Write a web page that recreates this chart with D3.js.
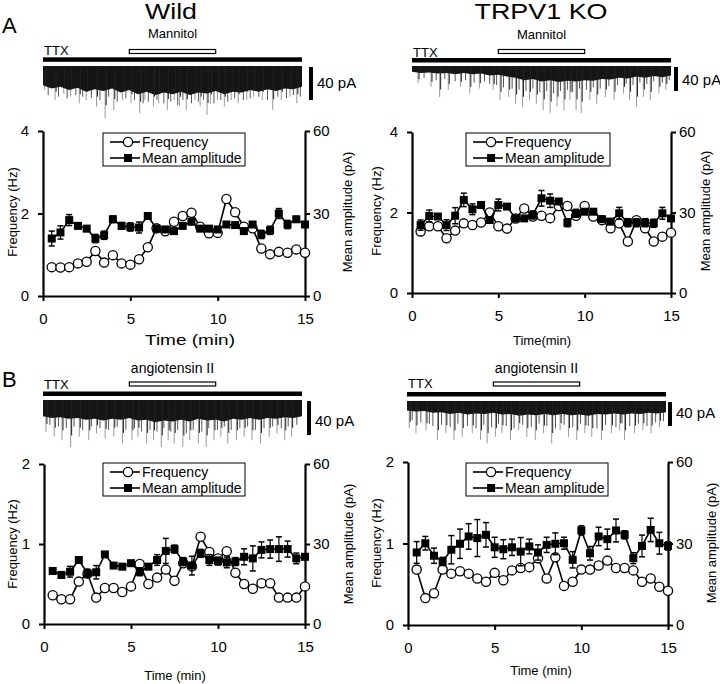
<!DOCTYPE html>
<html>
<head>
<meta charset="utf-8">
<script src="https://cdn.jsdelivr.net/npm/d3@7"></script>
<style>
body { margin: 0; background: #fff; }
svg { font-family: "Liberation Sans", Arial, sans-serif; }
</style>
</head>
<body>
<script>
// time points (min)
var times = [0.5, 1, 1.5, 2, 2.5, 3, 3.5, 4, 4.5, 5, 5.5, 6, 6.5, 7, 7.5, 8, 8.5, 9, 9.5, 10, 10.5, 11, 11.5, 12, 12.5, 13, 13.5, 14, 14.5, 15];
var xTicks = [0, 5, 10, 15];
var ampTicks = [0, 30, 60];
var drugOn = [5, 10];

// A - Wild (mannitol)
var aWildFreq = [0.70, 0.69, 0.70, 0.79, 0.83, 1.09, 0.81, 0.99, 0.79, 0.76, 0.89, 1.18, 1.64, 1.57, 1.80, 1.94, 2.02, 1.68, 1.52, 1.53, 2.35, 2.03, 1.68, 1.64, 1.15, 1.01, 1.07, 1.05, 1.13, 1.05];
var aWildAmp = [20.9, 23.1, 27.6, 25.5, 24.5, 20.9, 22.1, 27.9, 25.5, 25.1, 24.9, 29.1, 24.5, 24.2, 23.6, 25.5, 27.0, 24.5, 24.5, 24.2, 26.0, 25.8, 23.6, 26.0, 22.4, 23.9, 30.0, 26.0, 27.9, 26.0];
var aWildErr = [2.7, 2.4, 2.0, 1.0, 1.0, 1.5, 1.5, 1.2, 1.2, 1.5, 2.0, 1.0, 1.0, 1.0, 1.0, 1.0, 1.0, 1.0, 1.0, 1.0, 1.0, 1.0, 1.0, 1.0, 1.5, 1.5, 1.8, 1.5, 1.0, 1.0];

// A - TRPV1 KO (mannitol)
var aKoFreq = [1.53, 1.66, 1.66, 1.36, 1.55, 1.73, 1.69, 1.75, 2.00, 1.66, 1.60, 1.85, 2.10, 1.90, 1.92, 1.86, 2.16, 2.16, 1.92, 2.16, 1.90, 1.81, 1.61, 1.73, 1.28, 1.81, 1.61, 1.28, 1.40, 1.50];
var aKoAmp = [25.3, 28.7, 28.5, 25.3, 28.8, 34.7, 31.2, 32.8, 27.2, 32.8, 32.2, 27.8, 27.8, 29.1, 35.3, 34.4, 34.1, 26.2, 29.7, 30.3, 30.3, 27.5, 26.6, 29.7, 26.2, 26.2, 26.2, 26.0, 29.7, 27.8];
var aKoErr = [1.9, 2.2, 1.0, 2.0, 3.0, 2.5, 2.0, 1.0, 1.0, 2.2, 1.0, 1.0, 1.0, 1.5, 2.9, 2.5, 1.0, 1.5, 1.5, 1.0, 1.0, 1.0, 1.0, 2.2, 1.5, 1.5, 1.5, 1.5, 2.2, 1.0];

// B - Wild (angiotensin II)
var bWildFreq = [0.36, 0.31, 0.31, 0.53, 0.63, 0.33, 0.45, 0.45, 0.40, 0.47, 0.75, 0.50, 0.58, 0.68, 0.54, 0.76, 0.72, 1.09, 0.90, 0.82, 0.91, 0.64, 0.50, 0.44, 0.51, 0.51, 0.33, 0.33, 0.33, 0.47];
var bWildAmp = [19.9, 18.4, 19.6, 24.0, 19.0, 19.4, 26.1, 21.9, 21.5, 22.8, 19.6, 21.5, 24.0, 27.4, 28.1, 23.4, 21.9, 26.5, 24.0, 23.6, 23.1, 23.4, 25.2, 24.6, 27.8, 28.1, 28.1, 28.1, 24.6, 25.2];
var bWildErr = [1.0, 1.0, 2.0, 1.0, 1.5, 2.5, 1.0, 1.0, 1.0, 1.0, 1.5, 1.0, 2.0, 4.7, 1.5, 1.5, 3.5, 1.5, 2.0, 1.5, 2.0, 1.5, 3.0, 4.7, 3.0, 3.4, 4.6, 3.0, 2.0, 1.0];

// B - TRPV1 KO (angiotensin II)
var bKoFreq = [0.68, 0.33, 0.39, 0.68, 0.63, 0.66, 0.63, 0.57, 0.53, 0.64, 0.55, 0.67, 0.70, 0.71, 0.82, 0.57, 0.83, 0.48, 0.53, 0.68, 0.68, 0.73, 0.79, 0.70, 0.70, 0.67, 0.53, 0.57, 0.47, 0.42];
var bKoAmp = [26.7, 30.1, 25.5, 23.4, 27.7, 29.9, 32.6, 32.0, 33.2, 28.6, 27.9, 28.6, 27.0, 28.9, 26.7, 29.5, 29.9, 30.1, 24.0, 34.8, 26.4, 32.6, 31.6, 34.8, 33.2, 24.6, 29.1, 35.0, 30.1, 29.1];
var bKoErr = [4.0, 2.5, 2.8, 1.5, 5.2, 5.4, 4.7, 6.8, 4.5, 3.7, 3.5, 3.0, 5.2, 2.7, 2.8, 2.8, 4.0, 2.2, 3.0, 1.7, 2.5, 3.4, 3.7, 4.2, 1.5, 2.0, 4.0, 4.3, 4.0, 1.5];

// current traces: noise band depth (pA) every half minute, big events and small events [min, pA]
var bandMinutes = [0, 0.5, 1, 1.5, 2, 2.5, 3, 3.5, 4, 4.5, 5, 5.5, 6, 6.5, 7, 7.5, 8, 8.5, 9, 9.5, 10, 10.5, 11, 11.5, 12, 12.5, 13, 13.5, 14, 14.5, 15];
var aWildBand = [22, 26, 24, 28, 25, 30, 27, 29, 26, 31, 28, 33, 30, 34, 31, 33, 30, 34, 31, 32, 29, 33, 30, 31, 28, 30, 27, 29, 26, 27, 24];
var aWildSpikes = [[0.1, 28], [0.7, 40], [1.2, 32], [1.6, 36], [2.1, 44], [2.5, 40], [3.1, 48], [3.6, 62], [4.1, 52], [4.6, 40], [5.1, 44], [5.6, 56], [5.9, 40], [6.4, 48], [6.7, 44], [7.2, 52], [7.6, 40], [7.9, 48], [8.3, 52], [8.8, 40], [9.1, 48], [9.5, 58], [9.7, 44], [10.1, 40], [10.5, 48], [10.9, 40], [11.3, 44], [11.8, 40], [12.2, 36], [12.7, 40], [13.3, 52], [13.8, 40], [14.3, 36], [14.7, 44]];
var aWildSmall = [[0.3, 34], [0.9, 36], [1.4, 38], [1.9, 34], [2.3, 36], [2.8, 38], [3.3, 40], [3.8, 36], [4.3, 42], [4.8, 38], [5.3, 40], [5.8, 44], [6.1, 42], [6.6, 40], [7.0, 44], [7.4, 42], [7.8, 46], [8.1, 40], [8.6, 44], [9.0, 42], [9.3, 40], [9.9, 44], [10.3, 40], [10.7, 42], [11.1, 38], [11.6, 40], [12.0, 38], [12.5, 36], [13.0, 40], [13.6, 36], [14.1, 38], [14.5, 34], [14.9, 36]];
var aKoBand = [8, 10, 9, 11, 10, 12, 10, 12, 11, 14, 13, 16, 18, 22, 20, 24, 22, 25, 23, 24, 22, 23, 20, 21, 18, 19, 16, 18, 15, 17, 14];
var aKoSpikes = [[0.35, 27], [1.1, 33], [1.6, 50], [2.1, 38], [2.8, 33], [3.35, 44], [3.9, 36], [4.7, 38], [5.1, 55], [5.6, 50], [6.0, 61], [6.4, 66], [6.8, 55], [7.2, 61], [7.6, 72], [8.0, 77], [8.4, 66], [8.8, 72], [9.15, 55], [9.5, 72], [9.8, 77], [10.3, 55], [10.7, 61], [11.2, 50], [11.7, 55], [12.25, 44], [12.6, 55], [13.0, 66], [13.4, 50], [13.8, 55], [14.3, 44], [14.7, 38]];
var aKoSmall = [[0.7, 18], [1.4, 22], [1.9, 20], [2.5, 24], [3.1, 22], [3.6, 26], [4.2, 24], [4.5, 28], [4.9, 30], [5.3, 34], [5.8, 36], [6.2, 38], [6.6, 40], [7.0, 36], [7.4, 42], [7.8, 40], [8.2, 44], [8.6, 40], [9.0, 38], [9.3, 42], [9.7, 36], [10.1, 38], [10.5, 34], [10.9, 36], [11.4, 32], [11.9, 30], [12.4, 28], [12.8, 30], [13.2, 26], [13.6, 28], [14.0, 24], [14.5, 26], [14.9, 22]];
var bWildBand = [18, 20, 19, 21, 20, 22, 21, 23, 21, 22, 20, 23, 22, 25, 23, 24, 22, 24, 21, 23, 22, 24, 21, 22, 20, 22, 20, 21, 19, 20, 18];
var bWildSpikes = [[0.17, 36], [0.65, 42], [1.1, 46], [1.6, 54], [2.1, 42], [2.65, 46], [3.1, 38], [3.6, 44], [4.1, 42], [4.6, 50], [5.15, 46], [5.5, 42], [6.0, 50], [6.4, 46], [6.85, 54], [7.25, 46], [7.6, 50], [8.1, 54], [8.5, 46], [9.0, 50], [9.45, 54], [9.9, 46], [10.3, 42], [10.7, 50], [11.2, 46], [11.65, 42], [12.1, 46], [12.6, 50], [13.1, 42], [13.55, 38], [14.0, 46], [14.4, 42]];
var bWildSmall = [[0.4, 28], [0.9, 30], [1.35, 32], [1.8, 30], [2.3, 34], [2.8, 30], [3.3, 32], [3.8, 34], [4.3, 30], [4.8, 34], [5.3, 32], [5.7, 36], [6.2, 34], [6.6, 36], [7.0, 32], [7.4, 36], [7.8, 34], [8.3, 38], [8.7, 34], [9.2, 36], [9.6, 32], [10.1, 34], [10.5, 30], [10.9, 34], [11.4, 32], [11.85, 30], [12.3, 34], [12.8, 32], [13.3, 30], [13.8, 32], [14.2, 30], [14.7, 28]];
var bKoBand = [14, 16, 15, 18, 17, 20, 18, 21, 19, 20, 18, 21, 20, 23, 21, 22, 20, 22, 20, 22, 21, 23, 20, 21, 19, 21, 19, 20, 18, 19, 17];
var bKoSpikes = [[0.13, 44], [0.52, 52], [1.1, 47], [1.76, 63], [2.25, 52], [2.72, 63], [3.2, 58], [3.78, 52], [4.26, 63], [4.64, 69], [5.12, 58], [5.5, 52], [5.99, 63], [6.47, 47], [6.94, 58], [7.43, 63], [7.9, 52], [8.38, 69], [8.87, 47], [9.35, 58], [9.83, 63], [10.3, 52], [10.7, 58], [11.26, 63], [11.84, 52], [12.32, 47], [12.6, 63], [13.18, 52], [13.66, 47], [14.14, 52], [14.62, 42]];
var bKoSmall = [[0.3, 30], [0.8, 34], [1.3, 36], [1.5, 40], [2.0, 38], [2.5, 42], [2.95, 36], [3.5, 40], [4.0, 44], [4.45, 38], [4.9, 42], [5.3, 36], [5.75, 40], [6.2, 44], [6.7, 38], [7.2, 42], [7.65, 36], [8.1, 40], [8.6, 44], [9.1, 38], [9.6, 42], [10.05, 36], [10.5, 40], [11.0, 44], [11.5, 38], [12.1, 42], [12.45, 36], [12.9, 40], [13.4, 36], [13.9, 40], [14.4, 34], [14.85, 32]];

var W = 720, H = 684;
var svg = d3.select("body").append("svg").attr("width", W).attr("height", H);

function drawTrace(t) {
    var tx = d3.scaleLinear().domain([0, 15]).range([t.x0, t.x1]);
    var ty = d3.scaleLinear().domain([0, 40]).range([t.top, t.top + t.h40]);
    var g = svg.append("g");
    g.append("text").attr("x", (tx(drugOn[0]) + tx(drugOn[1])) / 2).attr("y", t.drugY)
        .attr("text-anchor", "middle").attr("font-size", t.drugSize).text(t.drug);
    g.append("rect").attr("x", tx(drugOn[0])).attr("y", t.boxY)
        .attr("width", tx(drugOn[1]) - tx(drugOn[0])).attr("height", 4)
        .attr("fill", "#fff").attr("stroke", "#000").attr("stroke-width", 1.2);
    g.append("text").attr("x", tx(0) + 1).attr("y", t.ttxY).attr("font-size", 13).text("TTX");
    g.append("rect").attr("x", tx(0)).attr("y", t.barY)
        .attr("width", tx(15) - tx(0)).attr("height", 4.5).attr("fill", "#000");
    // big events (gray)
    g.selectAll(".sp").data(t.spikes).enter().append("line")
        .attr("x1", d => tx(d[0])).attr("x2", d => tx(d[0]))
        .attr("y1", ty(0)).attr("y2", d => ty(d[1]))
        .attr("stroke", "#999").attr("stroke-width", 1);
    // small events (dark)
    g.selectAll(".sm").data(t.small).enter().append("line")
        .attr("x1", d => tx(d[0])).attr("x2", d => tx(d[0]))
        .attr("y1", ty(0)).attr("y2", d => ty(d[1]))
        .attr("stroke", "#555").attr("stroke-width", 1);
    // dense noise band
    var area = d3.area()
        .x((d, i) => tx(bandMinutes[i]))
        .y0(ty(0) - 1)
        .y1(d => ty(d));
    g.append("path").datum(t.band).attr("d", area).attr("fill", "#151515");
    g.selectAll(".spb").data(t.spikes).enter().append("line")
        .attr("x1", d => tx(d[0]) + 1).attr("x2", d => tx(d[0]) + 1)
        .attr("y1", ty(0)).attr("y2", d => ty(d[1] * 0.75))
        .attr("stroke", "#222").attr("stroke-width", 1);
    // scale bar
    g.append("rect").attr("x", t.sbX).attr("y", ty(0))
        .attr("width", 4).attr("height", ty(40) - ty(0)).attr("fill", "#000");
    g.append("text").attr("x", t.sbX + 8).attr("y", t.sbLabelY)
        .attr("font-size", 15).text("40 pA");
}

function drawPanel(p) {
    var x = d3.scaleLinear().domain([0, 15]).range([p.x0, p.x1]);
    var yF = d3.scaleLinear().domain([0, p.fMax]).range([p.yb, p.yt]);
    var yA = d3.scaleLinear().domain([0, 60]).range([p.yb, p.yt]);
    var g = svg.append("g");

    var axL = g.append("g").attr("transform", "translate(" + p.x0 + ",0)")
        .call(d3.axisLeft(yF).tickValues(p.fTicks).tickSize(5).tickSizeOuter(0).tickPadding(9).tickFormat(d3.format("d")));
    var axR = g.append("g").attr("transform", "translate(" + p.x1 + ",0)")
        .call(d3.axisRight(yA).tickValues(ampTicks).tickSize(5).tickSizeOuter(0).tickPadding(3));
    var axB = g.append("g").attr("transform", "translate(0," + p.yb + ")")
        .call(d3.axisBottom(x).tickValues(xTicks).tickSize(5).tickSizeOuter(0).tickPadding(12));
    [axL, axR, axB].forEach(function (a) {
        a.select(".domain").attr("stroke-width", 2.2);
        a.selectAll(".tick line").attr("stroke-width", 2);
        a.selectAll("text").attr("font-size", 15).attr("font-family", "Liberation Sans, Arial, sans-serif").attr("fill", "#000");
    });

    g.append("text").attr("transform", "translate(" + p.lLabX + "," + p.labMidY + ") rotate(-90)")
        .attr("text-anchor", "middle").attr("dy", "0.35em").attr("font-size", 13).text("Frequency (Hz)");
    g.append("text").attr("transform", "translate(" + p.rLabX + "," + p.labMidY + ") rotate(-90)")
        .attr("text-anchor", "middle").attr("dy", "0.35em").attr("font-size", 13).text("Mean amplitude (pA)");
    var tl = g.append("text").attr("x", p.tLabX).attr("y", p.tLabY)
        .attr("text-anchor", "middle").attr("font-size", p.tLabSize || 13).text(p.tLab);
    if (p.tLabW) tl.attr("textLength", p.tLabW).attr("lengthAdjust", "spacingAndGlyphs");

    var freq = times.map((t, i) => ({ t: t, v: p.freq[i] }));
    var amp = times.map((t, i) => ({ t: t, v: p.amp[i], e: p.err[i] }));

    g.append("path").datum(freq)
        .attr("d", d3.line().x(d => x(d.t)).y(d => yF(d.v)))
        .attr("fill", "none").attr("stroke", "#000").attr("stroke-width", 1.6);
    g.selectAll(".c").data(freq).enter().append("circle")
        .attr("cx", d => x(d.t)).attr("cy", d => yF(d.v)).attr("r", 4.6)
        .attr("fill", "#fff").attr("stroke", "#000").attr("stroke-width", 1.3);

    // error bars
    var eb = g.selectAll(".eb").data(amp).enter().append("g");
    eb.append("line").attr("x1", d => x(d.t)).attr("x2", d => x(d.t))
        .attr("y1", d => yA(d.v - d.e)).attr("y2", d => yA(d.v + d.e))
        .attr("stroke", "#000").attr("stroke-width", 1.2);
    eb.append("line").attr("x1", d => x(d.t) - 3).attr("x2", d => x(d.t) + 3)
        .attr("y1", d => yA(d.v + d.e)).attr("y2", d => yA(d.v + d.e))
        .attr("stroke", "#000").attr("stroke-width", 1.5);
    eb.append("line").attr("x1", d => x(d.t) - 3).attr("x2", d => x(d.t) + 3)
        .attr("y1", d => yA(d.v - d.e)).attr("y2", d => yA(d.v - d.e))
        .attr("stroke", "#000").attr("stroke-width", 1.5);

    g.append("path").datum(amp)
        .attr("d", d3.line().x(d => x(d.t)).y(d => yA(d.v)))
        .attr("fill", "none").attr("stroke", "#000").attr("stroke-width", 1.6);
    g.selectAll(".s").data(amp).enter().append("rect")
        .attr("x", d => x(d.t) - 4).attr("y", d => yA(d.v) - 4)
        .attr("width", 8).attr("height", 8).attr("fill", "#000");

    // legend
    var lg = g.append("g").attr("transform", "translate(" + p.legX + "," + p.legY + ")");
    lg.append("rect").attr("x", 0).attr("y", 0).attr("width", p.legW).attr("height", 33)
        .attr("fill", "#fff").attr("stroke", "#000").attr("stroke-width", 1);
    lg.append("line").attr("x1", 7).attr("x2", 37).attr("y1", 9).attr("y2", 9)
        .attr("stroke", "#000").attr("stroke-width", 1.6);
    lg.append("circle").attr("cx", 25).attr("cy", 9).attr("r", 4.6)
        .attr("fill", "#fff").attr("stroke", "#000").attr("stroke-width", 1.3);
    lg.append("text").attr("x", 39).attr("y", 14).attr("font-size", 14).text("Frequency");
    lg.append("line").attr("x1", 7).attr("x2", 37).attr("y1", 25).attr("y2", 25)
        .attr("stroke", "#000").attr("stroke-width", 1.6);
    lg.append("rect").attr("x", 21).attr("y", 21).attr("width", 8).attr("height", 8).attr("fill", "#000");
    lg.append("text").attr("x", 39).attr("y", 30).attr("font-size", 14).text("Mean amplitude");
}

// panel letters and titles
svg.append("text").attr("x", 2).attr("y", 33).attr("font-size", 22).text("A");
svg.append("text").attr("x", 2).attr("y", 387).attr("font-size", 22).text("B");
svg.append("text").attr("x", 171).attr("y", 19).attr("text-anchor", "middle").attr("font-size", 22)
    .attr("textLength", 52).attr("lengthAdjust", "spacingAndGlyphs").text("Wild");
svg.append("text").attr("x", 541).attr("y", 19).attr("text-anchor", "middle").attr("font-size", 22)
    .attr("textLength", 133).attr("lengthAdjust", "spacingAndGlyphs").text("TRPV1 KO");

drawTrace({ x0: 43, x1: 302, top: 67, h40: 33, drug: "Mannitol", drugSize: 13, drugY: 38, boxY: 49.5, ttxY: 55, barY: 57.3, sbX: 309, sbLabelY: 88, band: aWildBand, spikes: aWildSpikes, small: aWildSmall });
drawTrace({ x0: 412, x1: 671, top: 67, h40: 24, drug: "Mannitol", drugSize: 13, drugY: 39, boxY: 49.5, ttxY: 57, barY: 58, sbX: 674, sbLabelY: 85, band: aKoBand, spikes: aKoSpikes, small: aKoSmall });
drawTrace({ x0: 43, x1: 302, top: 401, h40: 34, drug: "angiotensin II", drugSize: 14, drugY: 373, boxY: 382, ttxY: 389, barY: 391.5, sbX: 307, sbLabelY: 426, band: bWildBand, spikes: bWildSpikes, small: bWildSmall });
drawTrace({ x0: 407, x1: 666, top: 402, h40: 24, drug: "angiotensin II", drugSize: 14, drugY: 373, boxY: 382, ttxY: 388, barY: 392, sbX: 668, sbLabelY: 418, band: bKoBand, spikes: bKoSpikes, small: bKoSmall });

drawPanel({ x0: 43, x1: 305, yt: 131, yb: 296, fMax: 4, fTicks: [0, 2, 4], freq: aWildFreq, amp: aWildAmp, err: aWildErr,
    lLabX: 12, rLabX: 347, labMidY: 212, tLab: "Time (min)", tLabX: 190, tLabY: 345, tLabW: 90, tLabSize: 14,
    legX: 103, legY: 133, legW: 142 });
drawPanel({ x0: 412, x1: 671, yt: 132, yb: 293, fMax: 4, fTicks: [0, 2, 4], freq: aKoFreq, amp: aKoAmp, err: aKoErr,
    lLabX: 376, rLabX: 705, labMidY: 211, tLab: "Time(min)", tLabX: 542, tLabY: 345,
    legX: 466, legY: 133, legW: 144 });
drawPanel({ x0: 44, x1: 305, yt: 464, yb: 624, fMax: 2, fTicks: [0, 1, 2], freq: bWildFreq, amp: bWildAmp, err: bWildErr,
    lLabX: 12, rLabX: 348, labMidY: 544, tLab: "Time (min)", tLabX: 175, tLabY: 680,
    legX: 103, legY: 463, legW: 142 });
drawPanel({ x0: 408, x1: 668, yt: 462, yb: 625, fMax: 2, fTicks: [0, 1, 2], freq: bKoFreq, amp: bKoAmp, err: bKoErr,
    lLabX: 376, rLabX: 711, labMidY: 543, tLab: "Time (min)", tLabX: 541, tLabY: 675,
    legX: 466, legY: 463, legW: 142 });
</script>
</body>
</html>
